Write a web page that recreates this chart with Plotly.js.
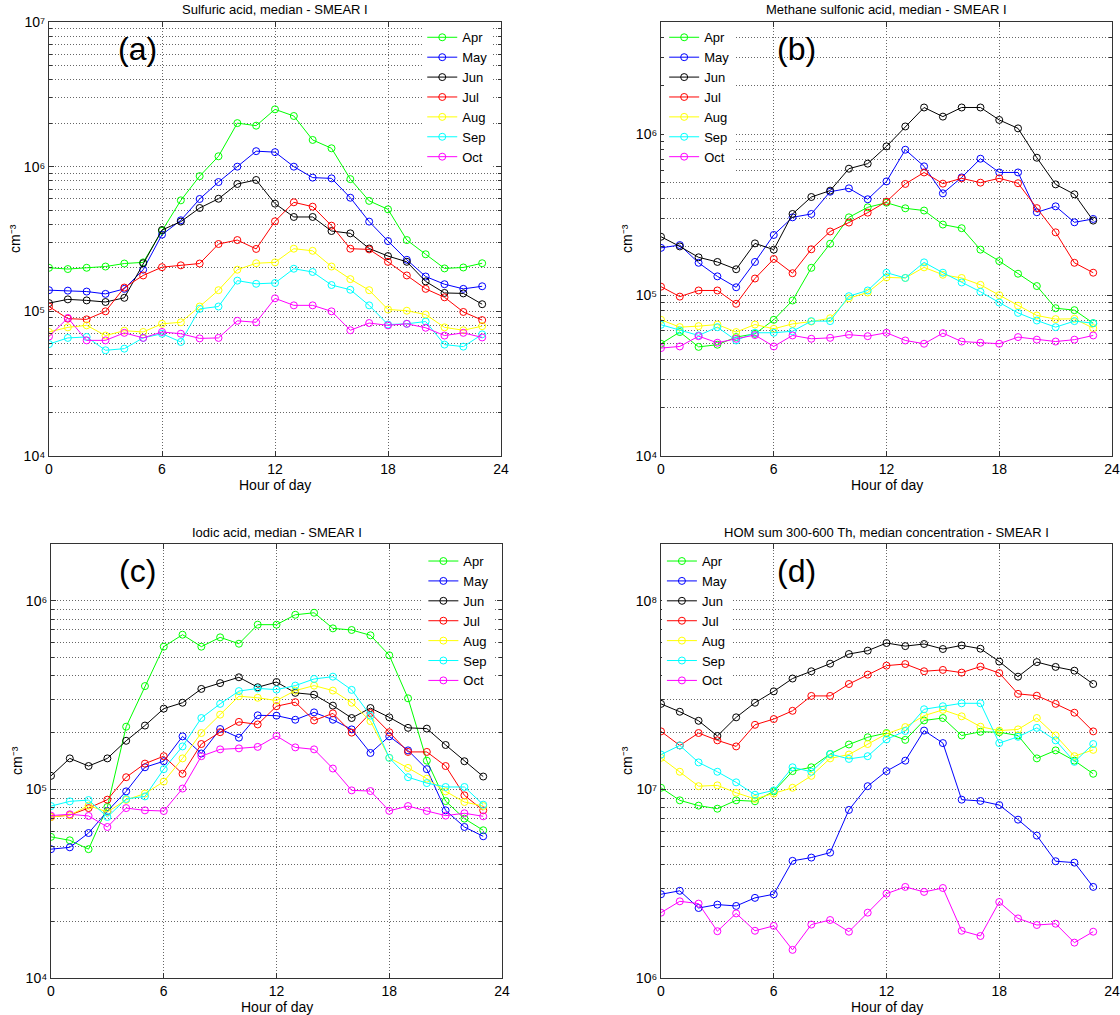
<!DOCTYPE html>
<html>
<head>
<meta charset="utf-8">
<script src="https://cdn.plot.ly/plotly-3.0.1.min.js"></script>
<style>html,body{margin:0;padding:0;background:#fff;}#chart{width:1120px;height:1015px;}</style>
</head>
<body>
<div id="chart"></div>
<script>
// ---------- DATA ----------
const hours = [0,1,2,3,4,5,6,7,8,9,10,11,12,13,14,15,16,17,18,19,20,21,22,23];
const months = ["Apr","May","Jun","Jul","Aug","Sep","Oct"];
const monthColors = ["#00ff00","#0000ff","#000000","#ff0000","#ffff00","#00ffff","#ff00ff"];

// (a) Sulfuric acid, cm-3
const saApr = [2.0e5,1.96e5,2.0e5,2.04e5,2.14e5,2.18e5,3.6e5,5.85e5,8.6e5,1.18e6,2.0e6,1.92e6,2.49e6,2.24e6,1.53e6,1.34e6,8.2e5,5.8e5,5.07e5,3.11e5,2.48e5,1.98e5,2.01e5,2.15e5];
const saMay = [1.40e5,1.39e5,1.37e5,1.32e5,1.43e5,1.94e5,3.39e5,4.26e5,5.98e5,7.83e5,1.0e6,1.28e6,1.26e6,1.0e6,8.4e5,8.3e5,6.1e5,4.17e5,3.06e5,2.27e5,1.74e5,1.54e5,1.43e5,1.49e5];
const saJun = [1.14e5,1.21e5,1.19e5,1.16e5,1.24e5,2.15e5,3.65e5,4.17e5,5.18e5,6.0e5,7.59e5,8.09e5,5.55e5,4.49e5,4.49e5,3.59e5,3.46e5,2.72e5,2.41e5,2.2e5,1.61e5,1.34e5,1.33e5,1.12e5];
const saJul = [1.08e5,8.9e4,8.8e4,1.0e5,1.46e5,1.77e5,2.02e5,2.08e5,2.14e5,2.92e5,3.11e5,2.70e5,4.19e5,5.67e5,5.29e5,3.91e5,2.71e5,2.68e5,2.2e5,1.77e5,1.43e5,1.25e5,9.9e4,8.7e4];
const saAug = [7.2e4,7.75e4,8.0e4,6.8e4,7.35e4,7.2e4,8.2e4,8.4e4,1.08e5,1.40e5,1.94e5,2.15e5,2.18e5,2.71e5,2.62e5,2.04e5,1.67e5,1.40e5,1.03e5,1.01e5,9.5e4,7.75e4,7.4e4,7.9e4];
const saSep = [5.94e4,6.55e4,6.65e4,5.38e4,5.52e4,6.55e4,7.0e4,6.14e4,1.04e5,1.08e5,1.63e5,1.55e5,1.57e5,1.97e5,1.87e5,1.52e5,1.41e5,1.10e5,8.1e4,8.2e4,8.5e4,5.89e4,5.7e4,6.93e4];
const saOct = [6.7e4,9.0e4,6.3e4,6.3e4,7.1e4,6.55e4,7.2e4,7.0e4,6.5e4,6.55e4,8.6e4,8.4e4,1.23e5,1.10e5,1.10e5,1.0e5,7.4e4,8.3e4,8.0e4,8.2e4,7.7e4,6.8e4,7.1e4,6.6e4];

// (b) Methane sulfonic acid, cm-3
const msaApr = [4.99e4,5.9e4,4.77e4,4.92e4,5.49e4,5.75e4,7.03e4,9.27e4,1.48e5,2.09e5,3.05e5,3.52e5,3.76e5,3.47e5,3.36e5,2.75e5,2.61e5,1.92e5,1.63e5,1.36e5,1.14e5,8.3e4,8.07e4,6.7e4];
const msaMay = [1.97e5,2.05e5,1.59e5,1.31e5,1.12e5,1.61e5,2.37e5,3.05e5,3.2e5,4.4e5,4.62e5,3.95e5,5.1e5,8.03e5,6.33e5,4.3e5,5.4e5,7.06e5,5.8e5,5.8e5,3.28e5,3.57e5,2.84e5,2.98e5];
const msaJun = [2.31e5,2.01e5,1.72e5,1.61e5,1.45e5,2.1e5,1.92e5,3.2e5,4.08e5,4.47e5,6.12e5,6.58e5,8.42e5,1.12e6,1.47e6,1.29e6,1.47e6,1.47e6,1.23e6,1.09e6,7.16e5,4.89e5,4.24e5,2.91e5];
const msaJul = [1.13e5,9.8e4,1.07e5,1.07e5,8.84e4,1.27e5,1.68e5,1.37e5,1.93e5,2.49e5,2.83e5,3.26e5,3.82e5,4.92e5,5.8e5,4.94e5,5.33e5,5.01e5,5.33e5,4.97e5,3.48e5,2.46e5,1.59e5,1.38e5];
const msaAug = [7.03e4,6.33e4,6.42e4,6.57e4,5.9e4,6.57e4,6.18e4,6.63e4,6.86e4,7.19e4,9.58e4,1.04e5,1.29e5,1.28e5,1.49e5,1.34e5,1.28e5,1.16e5,1.0e5,8.6e4,7.48e4,7.1e4,7.13e4,6.24e4];
const msaSep = [6.55e4,6.04e4,5.62e4,6.33e4,5.23e4,5.84e4,5.84e4,5.97e4,6.9e4,6.9e4,9.86e4,1.07e5,1.38e5,1.28e5,1.6e5,1.38e5,1.2e5,1.05e5,9.0e4,7.76e4,6.96e4,6.33e4,6.9e4,6.7e4];
const msaOct = [4.69e4,4.8e4,5.56e4,5.06e4,5.36e4,5.65e4,4.8e4,5.62e4,5.36e4,5.43e4,5.68e4,5.56e4,5.84e4,5.23e4,4.99e4,5.81e4,5.15e4,5.06e4,4.99e4,5.49e4,5.29e4,5.15e4,5.29e4,5.62e4];

// (c) Iodic acid, cm-3
const iaApr = [5.6e4,5.37e4,4.82e4,8.07e4,2.15e5,3.53e5,5.71e5,6.61e5,5.71e5,6.4e5,5.92e5,7.47e5,7.47e5,8.43e5,8.64e5,7.14e5,7.0e5,6.56e5,5.14e5,3.04e5,1.42e5,8.67e4,7.0e4,6.07e4];
const iaMay = [4.82e4,4.93e4,5.87e4,7.66e4,9.76e4,1.31e5,1.41e5,1.91e5,1.55e5,2.09e5,1.88e5,2.47e5,2.46e5,2.34e5,2.56e5,2.34e5,2.08e5,1.56e5,1.91e5,1.61e5,1.28e5,7.74e4,6.32e4,5.64e4];
const iaJun = [1.18e5,1.46e5,1.33e5,1.46e5,1.81e5,2.18e5,2.68e5,2.88e5,3.41e5,3.66e5,3.93e5,3.48e5,3.71e5,3.25e5,3.18e5,2.78e5,2.39e5,2.7e5,2.41e5,2.12e5,2.1e5,1.72e5,1.41e5,1.17e5];
const iaJul = [7.14e4,7.31e4,7.96e4,8.82e4,1.16e5,1.37e5,1.5e5,1.21e5,1.74e5,2.01e5,2.28e5,2.21e5,2.76e5,2.9e5,2.32e5,2.53e5,2.0e5,2.54e5,2.01e5,1.58e5,1.58e5,1.33e5,9.3e4,7.74e4];
const iaAug = [7.14e4,7.3e4,8.2e4,7.59e4,8.8e4,9.5e4,1.1e5,1.46e5,1.99e5,2.49e5,3.12e5,3.06e5,2.96e5,3.34e5,3.55e5,3.34e5,2.88e5,2.3e5,1.47e5,1.3e5,1.14e5,9.76e4,8.57e4,8.16e4];
const iaSep = [8.16e4,8.64e4,8.78e4,7.14e4,8.9e4,9.18e4,1.28e5,1.69e5,2.39e5,2.84e5,3.32e5,3.43e5,3.38e5,3.55e5,3.85e5,3.96e5,3.37e5,2.46e5,1.47e5,1.16e5,1.08e5,1.03e5,1.03e5,8.3e4];
const iaOct = [7.26e4,7.38e4,7.23e4,6.32e4,7.96e4,7.74e4,7.68e4,1.01e5,1.5e5,1.63e5,1.65e5,1.68e5,1.92e5,1.67e5,1.63e5,1.29e5,9.88e4,9.8e4,7.7e4,8.16e4,7.68e4,7.26e4,7.47e4,7.2e4];

// (d) HOM sum 300-600 Th, cm-3
const homApr = [1.02e7,8.75e6,8.2e6,7.9e6,8.75e6,8.65e6,9.76e6,1.25e7,1.31e7,1.54e7,1.73e7,1.89e7,1.99e7,1.83e7,2.32e7,2.39e7,1.93e7,2.02e7,2.01e7,1.93e7,1.46e7,1.61e7,1.42e7,1.21e7];
const homMay = [2.78e6,2.9e6,2.35e6,2.45e6,2.41e6,2.66e6,2.78e6,4.18e6,4.35e6,4.62e6,7.78e6,1.04e7,1.25e7,1.42e7,2.05e7,1.76e7,8.82e6,8.68e6,8.26e6,6.91e6,5.69e6,4.16e6,4.09e6,3.04e6];
const homJun = [2.84e7,2.58e7,2.31e7,1.92e7,2.41e7,2.88e7,3.31e7,3.87e7,4.23e7,4.64e7,5.22e7,5.44e7,5.97e7,5.75e7,5.9e7,5.55e7,5.8e7,5.57e7,4.76e7,3.96e7,4.73e7,4.46e7,4.26e7,3.62e7];
const homJul = [2.03e7,1.71e7,1.99e7,1.82e7,1.69e7,2.2e7,2.36e7,2.61e7,3.13e7,3.13e7,3.62e7,4.06e7,4.53e7,4.62e7,4.23e7,4.3e7,4.16e7,4.48e7,4.14e7,3.21e7,3.14e7,2.84e7,2.55e7,2.03e7];
const homAug = [1.47e7,1.24e7,1.04e7,1.05e7,9.6e6,8.9e6,9.5e6,1.02e7,1.18e7,1.46e7,1.53e7,1.74e7,1.97e7,2.14e7,2.46e7,2.64e7,2.44e7,2.15e7,2.05e7,2.08e7,2.39e7,1.93e7,1.5e7,1.62e7];
const homSep = [1.53e7,1.71e7,1.39e7,1.24e7,1.09e7,9.37e6,9.88e6,1.31e7,1.24e7,1.54e7,1.45e7,1.5e7,1.84e7,2.04e7,2.66e7,2.76e7,2.86e7,2.86e7,1.76e7,1.9e7,2.12e7,1.82e7,1.4e7,1.74e7];
const homOct = [2.22e6,2.55e6,2.48e6,1.77e6,2.2e6,1.78e6,1.89e6,1.41e6,1.92e6,2.03e6,1.76e6,2.22e6,2.8e6,3.04e6,2.86e6,3.0e6,1.78e6,1.67e6,2.53e6,2.07e6,1.91e6,1.94e6,1.54e6,1.76e6];

const panelTitles = ["Sulfuric acid, median - SMEAR I","Methane sulfonic acid, median - SMEAR I","Iodic acid, median - SMEAR I","HOM sum 300-600 Th, median concentration - SMEAR I"];
const panelLetters = ["(a)","(b)","(c)","(d)"];
const xTickVals = [0,6,12,18,24];
const yRanges = [[1e4,1e7],[1e4,5e6],[1e4,2e6],[1e6,2e8]];
const yUnit = "cm\u207B\u00B3";

// ---------- BUILD ----------
const panelSeries = [
  [saApr,saMay,saJun,saJul,saAug,saSep,saOct],
  [msaApr,msaMay,msaJun,msaJul,msaAug,msaSep,msaOct],
  [iaApr,iaMay,iaJun,iaJul,iaAug,iaSep,iaOct],
  [homApr,homMay,homJun,homJul,homAug,homSep,homOct]
];
const FONT = "Liberation Sans, Arial, sans-serif";
const W = 1120, H = 1015;
// pixel boxes of plot areas [left, right, top, bottom]
const boxes = [[49,501,22,456],[661,1112,22,456],[51,502,544,978],[661,1112,544,978]];

const traces = [];
panelSeries.forEach((series, p) => {
  const ax = p === 0 ? "" : String(p+1);
  series.forEach((vals, m) => {
    traces.push({
      x: hours, y: vals, type: "scatter", mode: "lines+markers",
      name: months[m], xaxis: "x"+ax, yaxis: "y"+ax,
      legend: p === 0 ? "legend" : "legend"+(p+1),
      line: {color: monthColors[m], width: 1},
      marker: {symbol: "circle-open", size: 7, color: monthColors[m], line: {width: 1, color: monthColors[m]}}
    });
  });
});

const SUP = {"-":"\u207B","0":"\u2070","1":"\u00B9","2":"\u00B2","3":"\u00B3","4":"\u2074","5":"\u2075","6":"\u2076","7":"\u2077","8":"\u2078","9":"\u2079"};
function supNum(n) { return String(n).split("").map(c => SUP[c]).join(""); }

function logTicks(lo, hi) {
  const major = [], minor = [], text = [];
  const e0 = Math.floor(Math.log10(lo)), e1 = Math.ceil(Math.log10(hi));
  for (let e = e0; e <= e1; e++) {
    for (let k = 1; k <= 9; k++) {
      const v = k * Math.pow(10, e);
      if (v < lo*0.999 || v > hi*1.001) continue;
      if (k === 1) { major.push(v); text.push("10" + supNum(e)); }
      else minor.push(v);
    }
  }
  return {major, minor, text};
}

const GRID = "#666";
const DASH = "1px,2px";
const layout = {
  width: W, height: H, margin: {l:0, r:0, t:0, b:0},
  paper_bgcolor: "#ffffff", plot_bgcolor: "#ffffff",
  font: {family: FONT, size: 13, color: "#000"},
  showlegend: true, annotations: []
};
const legendPos = [[0.377, 0.978], [0.593, 0.978], [0.378, 0.462], [0.591, 0.462]];

boxes.forEach((b, p) => {
  const ax = p === 0 ? "" : String(p+1);
  const lt = logTicks(yRanges[p][0], yRanges[p][1]);
  layout["xaxis"+ax] = {
    domain: [b[0]/W, b[1]/W], range: [0,24], anchor: "y"+ax,
    tickvals: xTickVals, ticks: "inside", ticklen: 5, tickcolor: "#333",
    showgrid: true, gridcolor: GRID, griddash: DASH, gridwidth: 1,
    showline: true, mirror: "ticks", linecolor: "#333", linewidth: 1,
    zeroline: false, tickfont: {size: 14, family: FONT}
  };
  layout["yaxis"+ax] = {
    domain: [1 - b[3]/H, 1 - b[2]/H], type: "log",
    range: [Math.log10(yRanges[p][0]), Math.log10(yRanges[p][1])], anchor: "x"+ax,
    tickmode: "array", tickvals: lt.major, ticktext: lt.text, ticks: "inside", ticklen: 5, tickcolor: "#333",
    showgrid: true, gridcolor: GRID, griddash: DASH, gridwidth: 1,
    minor: {tickmode: "array", tickvals: lt.minor, ticks: "inside", ticklen: 3, tickcolor: "#333",
            showgrid: true, gridcolor: GRID, griddash: DASH, gridwidth: 1},
    showline: true, mirror: "ticks", linecolor: "#333", linewidth: 1,
    zeroline: false, tickfont: {size: 14, family: FONT}
  };
  const lg = {
    x: legendPos[p][0], y: legendPos[p][1], xanchor: "left", yanchor: "top",
    bgcolor: "#ffffff", borderwidth: 0, font: {size: 13, family: FONT},
    tracegroupgap: 0, itemwidth: 30
  };
  layout[p === 0 ? "legend" : "legend"+(p+1)] = lg;
  const cx = (b[0]+b[1])/2;
  layout.annotations.push({text: panelTitles[p], xref:"paper", yref:"paper", x: cx/W, y: 1 - (b[2]-12)/H,
    showarrow:false, xanchor:"center", yanchor:"middle", font:{size:13, family: FONT}});
  layout.annotations.push({text: "Hour of day", xref:"paper", yref:"paper", x: cx/W, y: 1 - (b[3]+29)/H,
    showarrow:false, xanchor:"center", yanchor:"middle", font:{size:14, family: FONT}});
  layout.annotations.push({text: yUnit, xref:"paper", yref:"paper", x: (b[0]-34)/W, y: 1 - ((b[2]+b[3])/2)/H,
    showarrow:false, xanchor:"center", yanchor:"middle", textangle: -90, font:{size:14, family: FONT}});
  const letX = p % 2 === 0 ? 137 : 796;
  layout.annotations.push({text: panelLetters[p], xref:"paper", yref:"paper", x: letX/W, y: 1 - (b[2]+27)/H,
    showarrow:false, xanchor:"center", yanchor:"middle", font:{size:32, family: FONT}});
});

Plotly.newPlot("chart", traces, layout, {displayModeBar: false, staticPlot: true});
</script>
</body>
</html>
